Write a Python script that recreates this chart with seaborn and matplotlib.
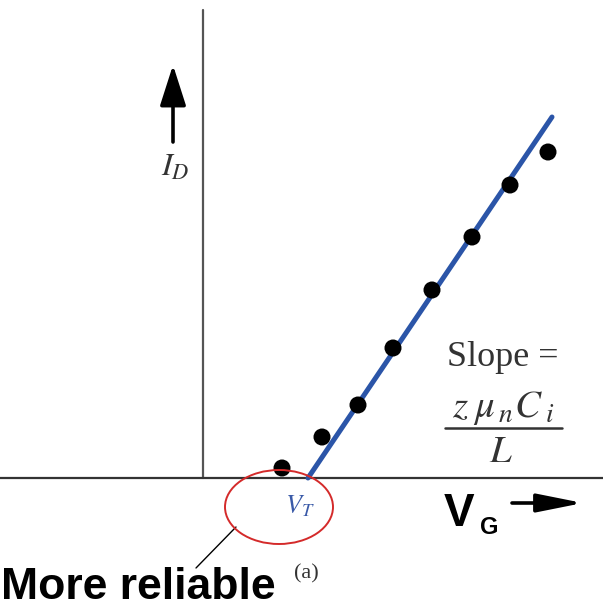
import matplotlib
matplotlib.use("Agg")
import matplotlib.pyplot as plt
from matplotlib.patches import Ellipse
import seaborn as sns
import pandas as pd

# Measured transfer characteristic (gate voltage vs drain current, arbitrary units)
gate_voltage = [7.9, 11.9, 15.5, 19.0, 22.9, 26.9, 30.7, 34.5]
drain_current = [1.0, 4.1, 7.3, 13.0, 18.8, 24.1, 29.3, 32.6]

# Linear extrapolation of the strong-inversion region
threshold_voltage = 10.5
fit_voltage = [threshold_voltage, 34.9]
fit_current = [0.0, 36.1]

sns.set_theme(style="white")
plt.rcParams["mathtext.fontset"] = "stix"
plt.rcParams["font.family"] = ["Liberation Serif", "DejaVu Serif"]

points = pd.DataFrame({"VG": gate_voltage, "ID": drain_current})
fit = pd.DataFrame({"VG": fit_voltage, "ID": fit_current})

fig = plt.figure(figsize=(6.03, 6.08), dpi=100)
ax = fig.add_axes([0, 0, 1, 1])
ax.set_xlim(-20.3, 40.0)
ax.set_ylim(-13.0, 47.8)
ax.set_axis_off()

# Coordinate axes
ax.plot([0, 0], [0, 46.8], color="#555555", lw=1.6, zorder=1)
ax.plot([-20.3, 40.0], [0, 0], color="#333333", lw=1.6, zorder=1)

# Fitted line and data points
sns.lineplot(data=fit, x="VG", y="ID", ax=ax, color="#2b55a8", lw=3.6,
             zorder=2, legend=False)
sns.scatterplot(data=points, x="VG", y="ID", ax=ax, color="black", s=150,
                edgecolor="none", zorder=3, legend=False)

# Axis arrows
ax.annotate("", xy=(-3.0, 41.3), xytext=(-3.0, 33.6),
            arrowprops=dict(arrowstyle="-|>,head_length=1.25,head_width=0.4",
                            mutation_scale=20, lw=2.6, color="black",
                            shrinkA=0, shrinkB=0))
ax.annotate("", xy=(38.0, -2.5), xytext=(30.9, -2.5),
            arrowprops=dict(arrowstyle="-|>,head_length=1.4,head_width=0.28",
                            mutation_scale=20, lw=2.6, color="black",
                            shrinkA=0, shrinkB=0))

# Axis labels
ax.text(-2.8, 31.0, r"$I_D$", fontsize=23, color="#333333",
        ha="center", va="center")
ax.text(25.6, -3.6, "V", fontsize=33, fontweight="bold", color="black",
        family=["Liberation Sans", "DejaVu Sans"], ha="center", va="center")
ax.text(28.6, -5.0, "G", fontsize=17, fontweight="bold", color="black",
        family=["Liberation Sans", "DejaVu Sans"], ha="center", va="center")

# Threshold marker
ax.text(threshold_voltage - 0.8, -2.8, r"$V_T$", fontsize=19, color="#3a5aa8",
        ha="center", va="center")
ax.add_patch(Ellipse((7.6, -2.9), 10.8, 7.4, fill=False,
                     edgecolor="#d42a2a", lw=1.4, zorder=4))
ax.plot([3.3, -0.7], [-4.9, -9.0], color="black", lw=1.0)
ax.text(10.3, -9.6, "(a)", fontsize=16, color="#333333",
        ha="center", va="center")
ax.text(-20.2, -12.1, "More reliable", fontsize=32, fontweight="bold",
        color="black", family=["Liberation Sans", "DejaVu Sans"],
        ha="left", va="baseline")

# Slope annotation
ax.text(30.0, 12.0, "Slope =", fontsize=26, color="#333333",
        ha="center", va="center")
ax.text(30.0, 7.0, r"$z\;\mu_{\,n}C_{\;i}$", fontsize=28, color="#333333",
        ha="center", va="center")
ax.plot([24.2, 35.9], [5.0, 5.0], color="#333333", lw=1.8)
ax.text(29.8, 2.6, r"$L$", fontsize=28, color="#333333",
        ha="center", va="center")

fig.savefig("out.png", dpi=100)
